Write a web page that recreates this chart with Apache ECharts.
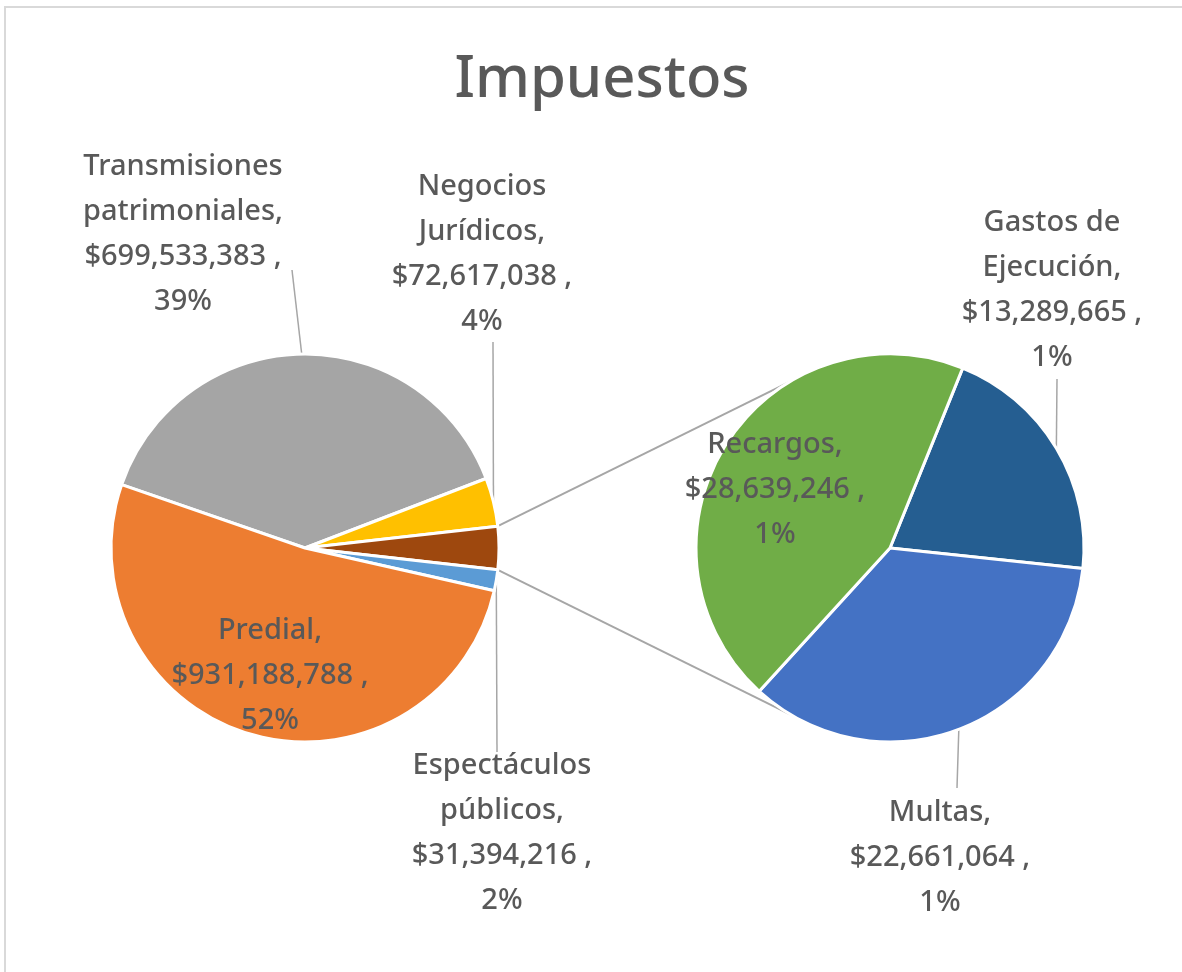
<!DOCTYPE html>
<html>
<head>
<meta charset="utf-8">
<title>Impuestos</title>
<script src="https://cdn.jsdelivr.net/npm/echarts@6/dist/echarts.min.js"></script>
<style>
  html, body { margin: 0; padding: 0; background: #fff; }
  #chart { width: 1182px; height: 972px; }
</style>
</head>
<body>
<div id="chart"></div>
<script>
// main pie (clockwise from the top-left edge of Transmisiones)
const mainNames = ['Transmisiones\npatrimoniales', 'Negocios\nJurídicos', 'Otros', 'Espectáculos\npúblicos', 'Predial']
const mainValues = [699533383, 72617038, 0, 31394216, 931188788]
const mainPct = ['39%', '4%', '', '2%', '52%']
const mainColors = ['#A5A5A5', '#FFC000', '#9E480E', '#5B9BD5', '#ED7D31']

// second pie (break-out of the small items)
const subNames = ['Gastos de\nEjecución', 'Multas', 'Recargos']
const subValues = [13289665, 22661064, 28639246]
const subPct = ['1%', '1%', '1%']
const subColors = ['#255E91', '#4472C4', '#70AD47']

// "Otros" slice of the main pie = sum of the second pie
mainValues[2] = subValues.reduce((a, b) => a + b, 0)

// layout
const leftC = [305, 548], rightC = [890, 548], R = 194
const textColor = '#595959'
const lineColor = '#A6A6A6'

// label anchors (centre of text block) and leader line end, per slice
const mainLabelPos = [
  { x: 183, y: 234, end: [292, 270] },
  { x: 482, y: 254, end: [493, 342] },
  null,
  { x: 502, y: 833, end: [497, 752] },
  { x: 270, y: 676 }
]
const subLabelPos = [
  { x: 1052, y: 290, end: [1057, 379] },
  { x: 940, y: 858, end: [957, 788] },
  { x: 775, y: 490 }
]

const total = mainValues.reduce((a, b) => a + b, 0)
const otherHalf = mainValues[2] / total * 180
const mainStart = (mainValues[2] / 2 + mainValues[1] + mainValues[0]) / total * 360
const subStart = 68

function midAngle(values, start, idx) {
  const sum = values.reduce((a, b) => a + b, 0)
  let a = start
  for (let i = 0; i < idx; i++) a -= values[i] / sum * 360
  return a - values[idx] / sum * 180
}
function onCircle(c, r, deg) {
  const t = deg * Math.PI / 180
  return [c[0] + r * Math.cos(t), c[1] - r * Math.sin(t)]
}
function money(v) {
  return '$' + v.toLocaleString('en-US')
}

function buildData(names, values, pct, colors, pos) {
  return names.map((n, i) => {
    const p = pos[i]
    const outside = p && p.end
    return {
      name: n,
      value: values[i],
      itemStyle: { color: colors[i] },
      label: {
        show: !!p,
        position: outside ? 'outside' : 'inside',
        formatter: n + ',\n' + money(values[i]) + ' ,\n' + pct[i]
      },
      labelLine: { show: !!outside }
    }
  })
}

function makeLayout(values, start, center, pos) {
  return function (params) {
    const p = pos[params.dataIndex]
    if (!p) return {}
    const res = { x: p.x, y: p.y, align: 'center', verticalAlign: 'middle' }
    if (p.end) {
      const e = onCircle(center, R, midAngle(values, start, params.dataIndex))
      res.labelLinePoints = [e, p.end, p.end]
    }
    return res
  }
}

const labelStyle = {
  color: textColor,
  fontFamily: 'Noto Sans',
  fontWeight: 500,
  fontSize: 29,
  lineHeight: 45,
  align: 'center'
}

const chart = echarts.init(document.getElementById('chart'), null, { renderer: 'canvas' })

const topA = onCircle(leftC, R, otherHalf)
const botA = onCircle(leftC, R, -otherHalf)
const topB = onCircle(rightC, R, 121)
const botB = onCircle(rightC, R, -121)

chart.setOption({
  animation: false,
  backgroundColor: '#fff',
  title: {
    text: 'Impuestos',
    left: 597,
    top: 46,
    textAlign: 'center',
    textStyle: {
      color: textColor,
      fontFamily: 'Noto Sans',
      fontWeight: 500,
      fontSize: 58
    }
  },
  graphic: [
    {
      type: 'rect',
      shape: { x: 5, y: 7, width: 1200, height: 1000 },
      style: { fill: 'none', stroke: '#D9D9D9', lineWidth: 2 },
      silent: true
    },
    {
      type: 'line',
      shape: { x1: topA[0], y1: topA[1], x2: topB[0], y2: topB[1] },
      style: { stroke: lineColor, lineWidth: 2 },
      silent: true
    },
    {
      type: 'line',
      shape: { x1: botA[0], y1: botA[1], x2: botB[0], y2: botB[1] },
      style: { stroke: lineColor, lineWidth: 2 },
      silent: true
    }
  ],
  series: [
    {
      type: 'pie',
      center: leftC,
      radius: R,
      startAngle: mainStart,
      clockwise: true,
      avoidLabelOverlap: false,
      itemStyle: { borderColor: '#fff', borderWidth: 3 },
      label: labelStyle,
      labelLine: { lineStyle: { color: lineColor, width: 1.5 } },
      labelLayout: makeLayout(mainValues, mainStart, leftC, mainLabelPos),
      emphasis: { disabled: true },
      data: buildData(mainNames, mainValues, mainPct, mainColors, mainLabelPos)
    },
    {
      type: 'pie',
      center: rightC,
      radius: R,
      startAngle: subStart,
      clockwise: true,
      avoidLabelOverlap: false,
      itemStyle: { borderColor: '#fff', borderWidth: 3 },
      label: labelStyle,
      labelLine: { lineStyle: { color: lineColor, width: 1.5 } },
      labelLayout: makeLayout(subValues, subStart, rightC, subLabelPos),
      emphasis: { disabled: true },
      data: buildData(subNames, subValues, subPct, subColors, subLabelPos)
    }
  ]
})
</script>
</body>
</html>
